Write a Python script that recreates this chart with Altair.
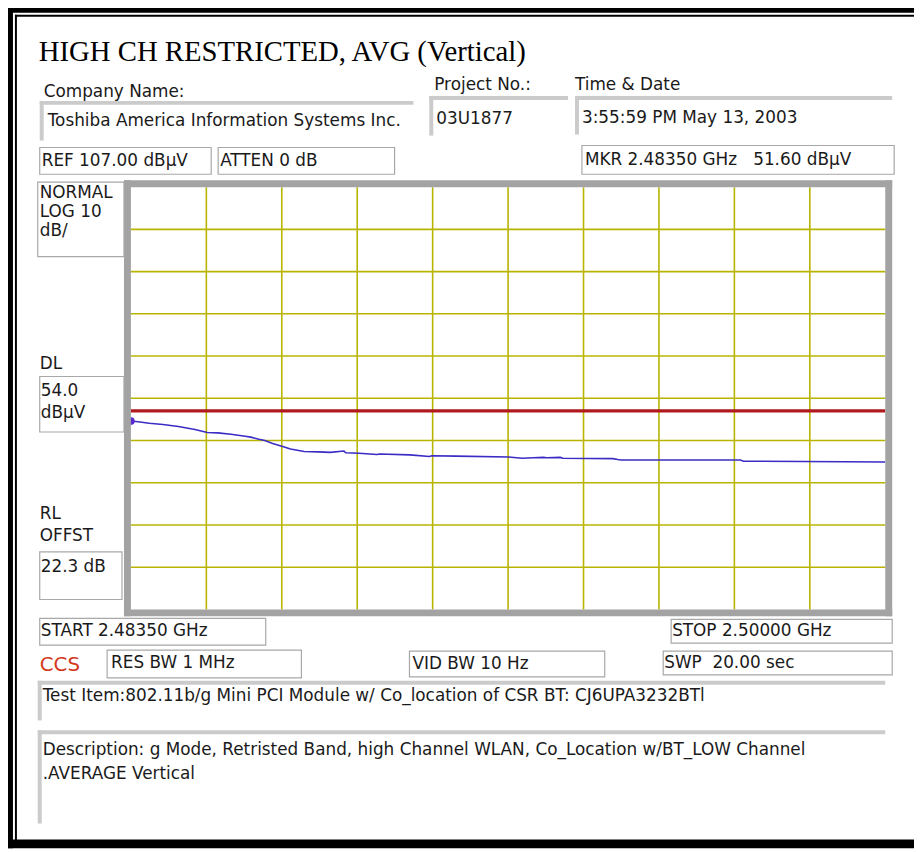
import altair as alt
import pandas as pd

# ---------------- data ----------------
freq_mhz = [2483.50, 2483.70, 2483.90, 2484.20, 2484.54, 2484.90, 2485.17, 2485.40,
            2485.69, 2486.00, 2486.12, 2486.30, 2486.43, 2486.60, 2486.82, 2486.99,
            2487.29, 2487.60, 2487.86, 2488.16, 2488.20, 2488.49, 2488.88, 2488.94,
            2489.60, 2490.03, 2490.08, 2490.61, 2491.76, 2492.06, 2492.30, 2492.52,
            2492.60, 2492.89, 2492.95, 2494.04, 2494.15, 2494.23, 2496.83, 2496.90,
            2500.00]
level_dbuv = [51.6, 51.4, 51.1, 50.8, 50.3, 49.6, 48.9, 48.8,
              48.5, 48.0, 47.8, 47.3, 47.0, 46.3, 45.6, 45.0,
              44.4, 44.3, 44.2, 44.5, 44.1, 44.0, 43.7, 43.8,
              43.6, 43.2, 43.4, 43.3, 43.1, 42.8, 42.9, 43.0,
              42.9, 43.0, 42.8, 42.7, 42.5, 42.4, 42.4, 42.1,
              41.9]
display_line_dbuv = [54.0]
marker_freq = [2483.50]
marker_level = [51.60]
vgrid_mhz = [2485.15, 2486.80, 2488.45, 2490.10, 2491.75, 2493.40, 2495.05, 2496.70, 2498.35]
hgrid_db = [97, 87, 77, 67, 57, 47, 37, 27, 17]
start_mhz, stop_mhz = 2483.5, 2500.0
ref_level, bottom_level = 107.0, 7.0

NB = "\u00a0"
title_text = "HIGH CH RESTRICTED, AVG (Vertical)"
company_label = "Company Name:"
company_name = "Toshiba America Information Systems Inc."
project_label = "Project No.:"
project_no = "03U1877"
time_label = "Time & Date"
time_text = "3:55:59 PM May 13, 2003"
ref_text = "REF 107.00 dBµV"
atten_text = "ATTEN 0 dB"
mkr_text = "MKR 2.48350 GHz" + NB * 3 + "51.60 dBµV"
scale_lines = ["NORMAL", "LOG 10", "dB/"]
dl_label = "DL"
dl_lines = ["54.0", "dBµV"]
rl_lines = ["RL", "OFFST"]
offset_text = "22.3 dB"
start_text = "START 2.48350 GHz"
stop_text = "STOP 2.50000 GHz"
ccs_text = "CCS"
res_text = "RES BW 1 MHz"
vid_text = "VID BW 10 Hz"
swp_text = "SWP" + NB * 2 + "20.00 sec"
test_item = "Test Item:802.11b/g Mini PCI Module w/ Co_location of CSR BT: CJ6UPA3232BTl"
desc_lines = ["Description: g Mode, Retristed Band, high Channel WLAN, Co_Location w/BT_LOW Channel",
              ".AVERAGE Vertical"]

# ---------------- layout helpers ----------------
OFF = 8
SANS = "DejaVu Sans"
SERIF = "Liberation Serif"
BOX = "#a8a8a8"
SUNK = "#cbcbcb"
FS = 17


def px(v):
    return v - OFF


one = alt.Data(values=[{"k": 1}])


def label(s, x, y, size=FS, color="#1a1a1a", font=SANS, baseline="middle"):
    return alt.Chart(one).mark_text(text=s, align="left", baseline=baseline, font=font,
                                    fontSize=size, color=color).encode(
        x=alt.value(px(x)), y=alt.value(px(y)))


def rect(x1, y1, x2, y2, fill):
    return alt.Chart(one).mark_rect(fill=fill, strokeWidth=0).encode(
        x=alt.value(px(x1)), x2=alt.value(px(x2)), y=alt.value(px(y1)), y2=alt.value(px(y2)))


def box(x1, y1, x2, y2, stroke=BOX, sw=1.2):
    return alt.Chart(one).mark_rect(fill="#ffffff", fillOpacity=0, stroke=stroke, strokeWidth=sw).encode(
        x=alt.value(px(x1)), x2=alt.value(px(x2)), y=alt.value(px(y1)), y2=alt.value(px(y2)))


def sunken(x1, y1, x2, y2):
    return [rect(x1, y1, x2, y1 + 4, SUNK), rect(x1, y1, x1 + 4, y2, SUNK)]


xs = alt.Scale(domain=[start_mhz, stop_mhz], range=[px(132), px(893)], nice=False, zero=False)
ys = alt.Scale(domain=[bottom_level, ref_level], range=[px(611), px(185)], nice=False, zero=False)

trace_df = pd.DataFrame({"f": freq_mhz, "l": level_dbuv})
vgrid_df = pd.DataFrame({"f": vgrid_mhz})
hgrid_df = pd.DataFrame({"l": hgrid_db})
dl_df = pd.DataFrame({"l": display_line_dbuv})
mk_df = pd.DataFrame({"f": marker_freq, "l": marker_level})

GRID = "#b8b400"

vgrid = alt.Chart(vgrid_df).mark_rule(color=GRID, strokeWidth=1.6).encode(
    x=alt.X("f:Q", scale=xs, axis=None), y=alt.value(px(185)), y2=alt.value(px(611)))
hgrid = alt.Chart(hgrid_df).mark_rule(color=GRID, strokeWidth=1.6).encode(
    y=alt.Y("l:Q", scale=ys, axis=None), x=alt.value(px(132)), x2=alt.value(px(893)))
dline = alt.Chart(dl_df).mark_rule(color="#b01a1e", strokeWidth=3.2).encode(
    y=alt.Y("l:Q", scale=ys, axis=None), x=alt.value(px(132)), x2=alt.value(px(893)))
trace = alt.Chart(trace_df).mark_line(color="#3b2cc4", strokeWidth=1.6).encode(
    x=alt.X("f:Q", scale=xs, axis=None), y=alt.Y("l:Q", scale=ys, axis=None))
marker = alt.Chart(mk_df).mark_point(filled=True, shape="circle", size=60, color="#5a2bd0", opacity=1).encode(
    x=alt.X("f:Q", scale=xs, axis=None), y=alt.Y("l:Q", scale=ys, axis=None))

FRAME = "#a3a3a3"
frame = [rect(125, 178, 900, 185, FRAME), rect(125, 178, 132, 618, FRAME),
         rect(893, 178, 900, 618, FRAME), rect(125, 611, 900, 618, FRAME)]

layers = []
# outer black border
layers += [rect(0, 0, 922, 9, "#000000"), rect(0, 0, 13, 852, "#000000"),
           rect(0, 843, 922, 852, "#000000"),
           rect(15, 11, 922, 13, "#000000"), rect(15, 11, 17, 845, "#000000")]

layers += [vgrid, hgrid, dline, trace, marker] + frame

# sunken header / footer boxes
layers += sunken(40, 98, 417, 138)
layers += sunken(433, 93, 573, 133)
layers += sunken(580, 93, 900, 132)
layers += sunken(38, 683, 893, 723)
layers += sunken(38, 733, 893, 827)

# thin outlined boxes
layers += [box(40, 145, 213, 172), box(220, 145, 398, 172), box(587, 143, 902, 172),
           box(38, 180, 125, 255), box(40, 376, 125, 432), box(40, 553, 123, 601),
           box(40, 620, 268, 647), box(677, 621, 900, 645),
           box(108, 652, 304, 680), box(413, 653, 610, 679), box(669, 653, 900, 677)]

# texts
layers += [label(title_text, 39, 58, size=29, color="#000000", font=SERIF, baseline="alphabetic")]
layers += [label(company_label, 44, 89), label(project_label, 438, 82), label(time_label, 580, 82)]
layers += [label(company_name, 48, 118), label(project_no, 440, 116), label(time_text, 587, 115)]
layers += [label(ref_text, 42, 159), label(atten_text, 222, 159), label(mkr_text, 590, 158)]
layers += [label(t, 40, 191 + 19 * i) for i, t in enumerate(scale_lines)]
layers += [label(dl_label, 40, 363)]
layers += [label(t, 41, 391 + 22 * i) for i, t in enumerate(dl_lines)]
layers += [label(t, 40, 515 + 22 * i) for i, t in enumerate(rl_lines)]
layers += [label(offset_text, 41, 568)]
layers += [label(start_text, 41, 633), label(stop_text, 678, 633)]
layers += [label(ccs_text, 40, 667, size=20, color="#d4381c"), label(res_text, 112, 665),
           label(vid_text, 416, 666), label(swp_text, 670, 665)]
layers += [label(test_item, 43, 698)]
layers += [label(t, 43, 753 + 24 * i) for i, t in enumerate(desc_lines)]

chart = alt.layer(*layers).properties(
    width=914, height=844, padding=0,
    autosize=alt.AutoSizeParams(type="none"),
    background="#ffffff",
).configure_view(strokeWidth=0)

chart.save("out.html", embed_options={"renderer": "svg", "actions": False})
